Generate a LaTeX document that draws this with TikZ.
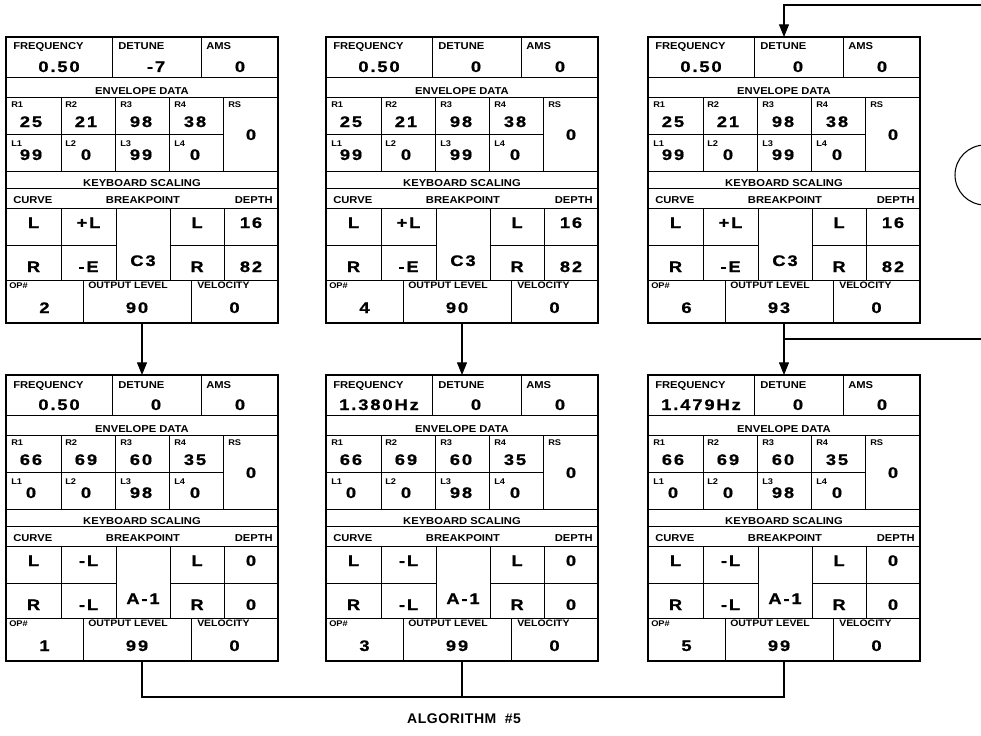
\documentclass[tikz,border=0pt]{standalone}
\usepackage{fontspec}
\setmainfont{Liberation Sans}
\newfontfamily\valfont{Liberation Sans}[UprightFont={* Bold},BoldFont={* Bold},FakeStretch=1.2,LetterSpace=12,FakeBold=0.8]
\newfontfamily\lblfont{Liberation Sans}[UprightFont={* Bold},BoldFont={* Bold},FakeStretch=1.12]
\newfontfamily\ttlfont{Liberation Sans}[UprightFont={* Bold},BoldFont={* Bold},LetterSpace=4]
\usetikzlibrary{arrows.meta}
\tikzset{
  opframe/.style={draw,line width=1.2pt,minimum width=204pt,minimum height=214.5pt,inner sep=0pt,outer sep=0pt},
  celline/.style={line width=0.7pt},
  lbl/.style={inner sep=0pt,anchor=base west,font=\lblfont\fontsize{7.5}{8}\selectfont},
  lblc/.style={lbl,anchor=base},
  lble/.style={lbl,anchor=base east},
  sml/.style={lbl,font=\lblfont\fontsize{6.2}{7}\selectfont},
  opl/.style={lbl,font=\lblfont\fontsize{7}{8}\selectfont},
  valn/.style={inner sep=0pt,anchor=base,font=\valfont\fontsize{11.5}{12}\selectfont},
  conn/.style={line width=0.8pt},
  arr/.style={conn,-{Triangle[width=7.5pt,length=9.5pt]}},
}
\def\oprowA#1#2/#3/#4\relax{%
  \node[valn] (#1-freq) at (53,35) {#2};
  \node[valn] (#1-det) at (150,35) {#3};
  \node[valn] (#1-ams) at (234,35) {#4};}
\def\oprowR#1#2/#3/#4/#5/#6\relax{%
  \node[valn] (#1-r1) at (25,90) {#2};
  \node[valn] (#1-r2) at (80,90) {#3};
  \node[valn] (#1-r3) at (135,90) {#4};
  \node[valn] (#1-r4) at (189,90) {#5};
  \node[valn] (#1-rs) at (245,103) {#6};}
\def\oprowL#1#2/#3/#4/#5\relax{%
  \node[valn] (#1-l1) at (25,123) {#2};
  \node[valn] (#1-l2) at (80,123) {#3};
  \node[valn] (#1-l3) at (135,123) {#4};
  \node[valn] (#1-l4) at (189,123) {#5};}
\def\oprowK#1#2/#3/#4/#5/#6\relax{%
  \node[valn] (#1-c1) at (27.5,191) {#2};
  \node[valn] (#1-s1) at (82.5,191) {#3};
  \node[valn] (#1-bp) at (137,229) {#4};
  \node[valn] (#1-c2) at (191,191) {#5};
  \node[valn] (#1-d1) at (245,191) {#6};}
\def\oprowS#1#2/#3/#4/#5\relax{%
  \node[valn] (#1-c3) at (27.5,235) {#2};
  \node[valn] (#1-s2) at (82.5,235) {#3};
  \node[valn] (#1-c4) at (191,235) {#4};
  \node[valn] (#1-d2) at (245,235) {#5};}
\def\oprowO#1#2/#3/#4\relax{%
  \node[valn] (#1-op) at (38.5,276) {#2};
  \node[valn] (#1-out) at (131,276) {#3};
  \node[valn] (#1-vel) at (228.5,276) {#4};}
\newcommand\opbox[9]{%
  \node[opframe] (#1) at ({#2+136},{#3+143}) {};
  \begin{scope}[shift={(#2,#3)}]
    \draw[celline] (0,40) -- (272,40) (0,60) -- (272,60) (0,97) -- (217,97)
      (0,134) -- (272,134) (0,151) -- (272,151) (0,171) -- (272,171)
      (0,208) -- (110,208) (164,208) -- (272,208) (0,243) -- (272,243)
      (106,0) -- (106,40) (195,0) -- (195,40)
      (55,60) -- (55,134) (109,60) -- (109,134) (163,60) -- (163,134) (217,60) -- (217,134)
      (55,171) -- (55,243) (110,171) -- (110,243) (164,171) -- (164,243) (218,171) -- (218,243)
      (77,243) -- (77,286) (185,243) -- (185,286);
    \node[lbl] (#1-tf) at (7,13) {FREQUENCY};
    \node[lbl] (#1-td) at (112,13) {DETUNE};
    \node[lbl] (#1-ta) at (200,13) {AMS};
    \node[lblc] (#1-te) at (136,57) {ENVELOPE DATA};
    \node[sml] (#1-tr1) at (5,70.5) {R1};
    \node[sml] (#1-tr2) at (59,70.5) {R2};
    \node[sml] (#1-tr3) at (114,70.5) {R3};
    \node[sml] (#1-tr4) at (168,70.5) {R4};
    \node[sml] (#1-trs) at (222,70.5) {RS};
    \node[sml] (#1-tl1) at (5,109.5) {L1};
    \node[sml] (#1-tl2) at (59,109.5) {L2};
    \node[sml] (#1-tl3) at (114,109.5) {L3};
    \node[sml] (#1-tl4) at (168,109.5) {L4};
    \node[lblc] (#1-tk) at (136,149) {KEYBOARD SCALING};
    \node[lbl] (#1-tc) at (7,166) {CURVE};
    \node[lblc] (#1-tb) at (137,166) {BREAKPOINT};
    \node[lble] (#1-tdp) at (267,166) {DEPTH};
    \node[sml] (#1-top) at (3,251) {OP\#};
    \node[opl] (#1-tol) at (82,251) {OUTPUT LEVEL};
    \node[opl] (#1-tv) at (191,251) {VELOCITY};
    \oprowA{#1}#4\relax
    \oprowR{#1}#5\relax
    \oprowL{#1}#6\relax
    \oprowK{#1}#7\relax
    \oprowS{#1}#8\relax
    \oprowO{#1}#9\relax
  \end{scope}}
\begin{document}
\begin{tikzpicture}[x=0.75pt,y=-0.75pt]
  \path[use as bounding box] (0,0) rectangle (981,735);
  \clip (0,0) rectangle (981,735);
  \opbox{op2}{6}{37}{0.50/-7/0}{25/21/98/38/0}{99/0/99/0}{L/+L/C3/L/16}{R/-E/R/82}{2/90/0}
  \opbox{op4}{326}{37}{0.50/0/0}{25/21/98/38/0}{99/0/99/0}{L/+L/C3/L/16}{R/-E/R/82}{4/90/0}
  \opbox{op6}{648}{37}{0.50/0/0}{25/21/98/38/0}{99/0/99/0}{L/+L/C3/L/16}{R/-E/R/82}{6/93/0}
  \opbox{op1}{6}{375}{0.50/0/0}{66/69/60/35/0}{0/0/98/0}{L/-L/A-1/L/0}{R/-L/R/0}{1/99/0}
  \opbox{op3}{326}{375}{1.380Hz/0/0}{66/69/60/35/0}{0/0/98/0}{L/-L/A-1/L/0}{R/-L/R/0}{3/99/0}
  \opbox{op5}{648}{375}{1.479Hz/0/0}{66/69/60/35/0}{0/0/98/0}{L/-L/A-1/L/0}{R/-L/R/0}{5/99/0}
  \draw[arr] (op2.south) -- (op1.north);
  \draw[arr] (op4.south) -- (op3.north);
  \draw[arr] (op6.south) -- (op5.north);
  \coordinate (fbtop) at (981,5);
  \coordinate (fbmid) at (981,339);
  \coordinate (bus) at (0,697);
  \draw[arr] (fbtop) -| (op6.north);
  \draw[conn] (fbmid) -- (fbmid -| op6.south);
  \draw[conn] (op1.south) |- (bus -| op5.south) -- (op5.south);
  \draw[conn] (op3.south) -- (op3.south |- bus);
  \node[circle,draw,line width=0.8pt,minimum size=45pt,inner sep=0pt] (outc) at (985,175) {};
  \node[inner sep=0pt,font=\ttlfont\fontsize{10.5}{12}\selectfont] (title) at (464,719) {ALGORITHM\hspace{0.6em}\#5};
\end{tikzpicture}
\end{document}
